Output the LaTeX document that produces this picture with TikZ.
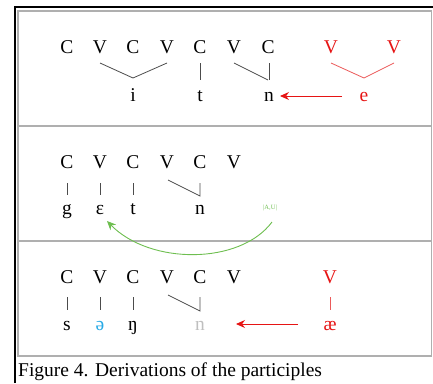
\documentclass[tikz,border=0pt]{standalone}
\usepackage{fontspec}
\setmainfont{Liberation Serif}
\usetikzlibrary{arrows.meta}
\definecolor{boxgray}{RGB}{175,175,175}
\definecolor{lred}{RGB}{230,20,20}
\definecolor{pred}{RGB}{235,90,90}
\definecolor{lgreen}{RGB}{110,190,80}
\definecolor{schwa}{RGB}{40,170,230}
\tikzset{
  seg/.style={inner sep=0pt, font=\fontsize{19.5}{19.5}\selectfont, anchor=base},
  tiny/.style={inner sep=0pt, font=\fontsize{6.5}{6.5}\selectfont, anchor=base},
  assoc/.style={draw=black!70, line width=0.8pt},
  rassoc/.style={draw=pred, line width=0.8pt},
  redarrow/.style={draw=lred, line width=0.9pt, -{Stealth[length=9pt,width=8pt]}},
  greenarrow/.style={draw=lgreen, line width=0.9pt, -{Stealth[length=9pt,width=8pt]}},
}
\begin{document}
\begin{tikzpicture}[x=1pt,y=-1pt]
\useasboundingbox (0,0) rectangle (433,383);
% frame
\draw[line width=2.2pt] (15.3,383) -- (15.3,7) -- (433,7);
\draw[boxgray, line width=1.2pt] (18,11) rectangle (431.5,356);
\draw[boxgray, line width=1.2pt] (18,126) -- (431.5,126);
\draw[boxgray, line width=1.2pt] (18,241) -- (431.5,241);
\node[anchor=base west, inner sep=0pt, font=\fontsize{19.5}{19.5}\selectfont] (cap) at (18,376) {Figure 4. Derivations of the participles};

% ---- row 1
\foreach \n/\x/\l in {a1/67/C,a2/100/V,a3/133/C,a4/167/V,a5/200/C,a6/234/V,a7/268/C}
  \node[seg] (\n) at (\x,53) {\l};
\node[seg, text=lred] (a8) at (331,53) {V};
\node[seg, text=lred] (a9) at (394,53) {V};
\node[seg] (b1) at (133,101) {i};
\node[seg] (b2) at (200,101) {t};
\node[seg] (b3) at (269,101) {n};
\node[seg, text=lred] (b4) at (364,101) {e};
\coordinate (j1) at (133,78);
\coordinate (j2) at (268,80);
\coordinate (j3) at (364,78);
\draw[assoc] (a2.south |- 0,63) -- (j1) -- (a4.south |- 0,63);
\draw[assoc] (a5.south |- 0,63) -- (a5.south |- 0,80);
\draw[assoc] (a6.south |- 0,63) -- (j2);
\draw[assoc] (269,63) -- (269,80);
\draw[rassoc] (a8.south |- 0,63) -- (j3) -- (a9.south |- 0,63);
\draw[redarrow] (342,96) -- (280,96);

% ---- row 2
\foreach \n/\x/\l in {c1/67/C,c2/100/V,c3/133/C,c4/167/V,c5/200/C,c6/234/V}
  \node[seg] (\n) at (\x,168) {\l};
\node[seg] (d1) at (67,214) {g};
\node[seg] (d2) at (100,214) {ε};
\node[seg] (d3) at (133,214) {t};
\node[seg] (d4) at (200,214) {n};
\node[tiny, text=lgreen] (au) at (270,209) {|A,U|};
\foreach \x in {67,100,133} \draw[assoc] (\x,183) -- (\x,195);
\draw[assoc] (168,180) -- (200,196) -- (200,183);
\draw[greenarrow] (272,222) .. controls (240,265) and (150,265) .. (107,221);

% ---- row 3
\foreach \n/\x/\l in {e1/67/C,e2/100/V,e3/133/C,e4/167/V,e5/200/C,e6/234/V}
  \node[seg] (\n) at (\x,283) {\l};
\node[seg, text=lred] (e7) at (330,283) {V};
\node[seg] (f1) at (67,330) {s};
\node[seg, text=schwa] (f2) at (100,330) {ə};
\node[seg] (f3) at (133,330) {ŋ};
\node[seg, text=black!25] (f4) at (200,330) {n};
\node[seg, text=lred] (f5) at (330,330) {æ};
\foreach \x in {67,100,133} \draw[assoc] (\x,297) -- (\x,310);
\draw[assoc] (168,295) -- (200,311) -- (200,297);
\draw[rassoc] (330,297) -- (330,310);
\draw[redarrow] (298,324) -- (236,324);
\end{tikzpicture}
\end{document}
